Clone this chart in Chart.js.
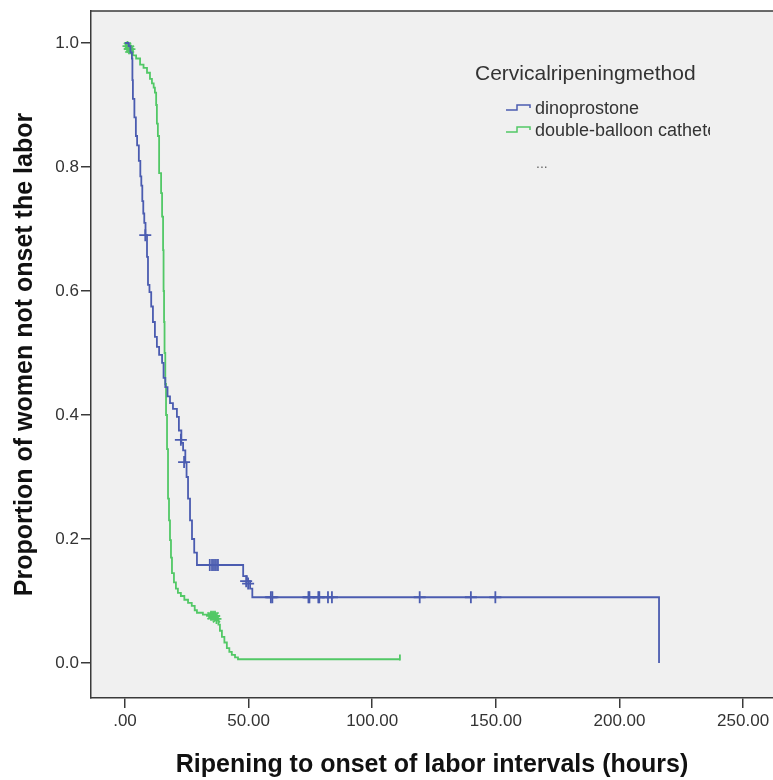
<!DOCTYPE html>
<html>
<head>
<meta charset="utf-8">
<script src="https://cdn.jsdelivr.net/npm/chart.js@4.4.0/dist/chart.umd.min.js"></script>
<style>
  html, body { margin: 0; padding: 0; background: #ffffff; }
  #wrap { width: 773px; height: 780px; position: relative; }
</style>
</head>
<body>
<div id="wrap"><canvas id="grafico" width="773" height="780"></canvas></div>
<script>
// series names
const grupos = ["dinoprostone", "double-balloon catheter"];
const tituloLeyenda = "Cervicalripeningmethod";

// dinoprostone: event times (hours) and survival after each step
const dinoT = [0, 1.5, 2.2, 2.8, 3.0, 3.2, 3.8, 4.4, 4.9, 5.6, 6.2, 6.6, 7.0, 7.4, 7.8, 8.3, 8.9, 9.3, 9.9, 10.6,
  11.3, 12.1, 12.9, 13.8, 15.0, 15.6, 16.3, 17.2, 18.2, 19.4, 21.0, 21.8, 22.8, 23.5, 24.4, 24.9, 25.5, 26.3, 27.1, 28.0,
  29.1, 47.8, 49.3, 50.6, 51.5, 216.0];
const dinoS = [1.0, 0.995, 0.985, 0.975, 0.94, 0.91, 0.88, 0.85, 0.835, 0.81, 0.785, 0.77, 0.745, 0.725, 0.71, 0.69, 0.655, 0.61, 0.598, 0.575,
  0.55, 0.526, 0.51, 0.497, 0.484, 0.46, 0.445, 0.43, 0.419, 0.41, 0.397, 0.375, 0.355, 0.343, 0.323, 0.3, 0.265, 0.23, 0.2, 0.178,
  0.158, 0.14, 0.132, 0.12, 0.106, 0.0];
// dinoprostone censored
const dinoCensT = [8.2, 22.6, 23.9, 34.3, 35.2, 36.0, 36.8, 37.6, 49.0, 49.8, 59.0, 59.6, 74.2, 74.6, 78.2, 78.6, 82.1, 83.7, 119.2, 139.9, 149.8];
const dinoCensS = [0.69, 0.36, 0.324, 0.158, 0.158, 0.158, 0.158, 0.158, 0.132, 0.128, 0.106, 0.106, 0.106, 0.106, 0.106, 0.106, 0.106, 0.106, 0.106, 0.106, 0.106];

// double-balloon catheter
const balonT = [0, 1.0, 2.0, 3.2, 4.5, 6.1, 7.5, 8.9, 10.1, 10.9, 11.6, 12.1, 12.6, 12.9, 13.3, 13.8, 14.6, 15.0, 15.4, 15.6,
  15.8, 16.0, 16.3, 16.6, 17.0, 17.4, 17.8, 18.2, 18.6, 19.0, 19.8, 20.6, 21.4, 22.6, 24.0, 25.5, 27.0, 28.2, 29.1, 31.5,
  34.4, 37.0, 37.8, 38.4, 39.2, 40.2, 41.2, 42.2, 43.2, 44.5, 45.7, 111.2];
const balonS = [1.0, 0.995, 0.99, 0.98, 0.975, 0.965, 0.96, 0.952, 0.942, 0.935, 0.928, 0.92, 0.9, 0.87, 0.85, 0.79, 0.758, 0.72, 0.666, 0.6,
  0.55, 0.5, 0.45, 0.4, 0.345, 0.265, 0.23, 0.198, 0.17, 0.145, 0.13, 0.12, 0.113, 0.108, 0.102, 0.097, 0.092, 0.085, 0.081, 0.078,
  0.076, 0.071, 0.062, 0.052, 0.042, 0.033, 0.024, 0.018, 0.013, 0.009, 0.006, 0.006];
const balonCensT = [1.0, 1.6, 2.2, 34.8, 35.6, 36.4, 37.0, 111.2];
const balonCensS = [0.995, 0.99, 0.99, 0.076, 0.076, 0.076, 0.071, 0.009];

// axis ticks
const xTicks = [0, 50, 100, 150, 200, 250];
const xTickLabels = [".00", "50.00", "100.00", "150.00", "200.00", "250.00"];
const yTicks = [0, 0.2, 0.4, 0.6, 0.8, 1.0];
const yTickLabels = ["0.0", "0.2", "0.4", "0.6", "0.8", "1.0"];

const azul = '#4b5cb0';
const verde = '#52c866';
const fuente = '"Liberation Sans", Arial, sans-serif';

const puntos = (ts, ss) => ts.map((t, i) => ({ x: t, y: ss[i] }));

const fondo = {
  id: 'fondo',
  beforeDraw(chart) {
    const { ctx, chartArea: a } = chart;
    ctx.save();
    ctx.fillStyle = '#f0f0f0';
    ctx.fillRect(a.left, a.top, a.right - a.left, a.bottom - a.top);
    ctx.strokeStyle = '#3a3a3a';
    ctx.lineWidth = 1.5;
    ctx.beginPath();
    ctx.moveTo(a.left, a.top);
    ctx.lineTo(a.right, a.top);
    ctx.stroke();
    ctx.restore();
  }
};

const leyenda = {
  id: 'leyenda',
  afterDraw(chart) {
    const ctx = chart.ctx;
    ctx.save();
    ctx.textBaseline = 'alphabetic';
    ctx.fillStyle = '#333';
    ctx.font = '21px ' + fuente;
    ctx.fillText(tituloLeyenda, 475, 80);
    ctx.font = '18px ' + fuente;
    const colores = [azul, verde];
    const ys = [114, 136];
    ctx.save();
    ctx.beginPath();
    ctx.rect(500, 90, 210, 60);
    ctx.clip();
    grupos.forEach((g, i) => {
      const y = ys[i];
      ctx.strokeStyle = colores[i];
      ctx.lineWidth = 1.5;
      ctx.beginPath();
      ctx.moveTo(506, y - 4);
      ctx.lineTo(517, y - 4);
      ctx.lineTo(517, y - 9);
      ctx.lineTo(530, y - 9);
      ctx.lineTo(530, y - 6);
      ctx.stroke();
      ctx.fillStyle = '#333';
      ctx.fillText(g, 535, y);
    });
    ctx.restore();
    ctx.fillStyle = '#666';
    ctx.font = '14px ' + fuente;
    ctx.fillText('...', 536, 168);
    ctx.restore();
  }
};

const ctx = document.getElementById('grafico').getContext('2d');

new Chart(ctx, {
  type: 'scatter',
  data: {
    datasets: [
      {
        label: grupos[0],
        data: puntos(dinoT, dinoS),
        showLine: true,
        stepped: 'before',
        borderColor: azul,
        borderWidth: 1.8,
        pointRadius: 0
      },
      {
        label: grupos[1],
        data: puntos(balonT, balonS),
        showLine: true,
        stepped: 'before',
        borderColor: verde,
        borderWidth: 1.8,
        pointRadius: 0
      },
      {
        label: grupos[0] + ' censored',
        data: puntos(dinoCensT, dinoCensS),
        pointStyle: 'cross',
        pointRadius: 6,
        borderColor: azul,
        borderWidth: 1.8,
        backgroundColor: azul
      },
      {
        label: grupos[1] + ' censored',
        data: puntos(balonCensT, balonCensS),
        pointStyle: c => (c.dataIndex === balonCensT.length - 1 ? 'line' : 'star'),
        rotation: c => (c.dataIndex === balonCensT.length - 1 ? 90 : 0),
        pointRadius: c => (c.dataIndex === balonCensT.length - 1 ? 3 : 5),
        borderColor: verde,
        borderWidth: 1.8,
        backgroundColor: verde
      }
    ]
  },
  options: {
    responsive: false,
    animation: false,
    layout: { autoPadding: false, padding: { top: 11, right: 0, left: 0, bottom: 0 } },
    plugins: {
      legend: { display: false },
      tooltip: { enabled: false }
    },
    scales: {
      x: {
        type: 'linear',
        min: -13.75,
        max: 262.1,
        afterFit: s => { s.height = 82; s.paddingLeft = 0; s.paddingRight = 0; },
        afterBuildTicks: s => { s.ticks = xTicks.map(v => ({ value: v })); },
        ticks: {
          color: '#333',
          font: { size: 17, family: fuente },
          padding: 3,
          maxRotation: 0,
          callback: (v) => xTickLabels[xTicks.indexOf(v)]
        },
        grid: { drawOnChartArea: false, drawTicks: true, tickLength: 10, color: '#3a3a3a', lineWidth: 1.5 },
        border: { display: true, color: '#3a3a3a', width: 1.5 },
        title: {
          display: true,
          text: 'Ripening to onset of labor intervals (hours)',
          color: '#111',
          font: { size: 25, weight: 'bold', family: fuente },
          padding: { top: 3, bottom: 0 }
        }
      },
      y: {
        type: 'linear',
        min: -0.0565,
        max: 1.0516,
        afterFit: s => { s.width = 91; s.paddingTop = 0; s.paddingBottom = 0; },
        afterBuildTicks: s => { s.ticks = yTicks.map(v => ({ value: v })); },
        ticks: {
          color: '#333',
          font: { size: 17, family: fuente },
          padding: 2,
          callback: (v) => yTickLabels[yTicks.indexOf(v)]
        },
        grid: { drawOnChartArea: false, drawTicks: true, tickLength: 10, color: '#3a3a3a', lineWidth: 1.5 },
        border: { display: true, color: '#3a3a3a', width: 1.5 },
        title: {
          display: true,
          text: 'Proportion of women not onset the labor',
          color: '#111',
          font: { size: 25, weight: 'bold', family: fuente },
          padding: { top: 10, bottom: 0 }
        }
      }
    }
  },
  plugins: [fondo, leyenda]
});
</script>
</body>
</html>
